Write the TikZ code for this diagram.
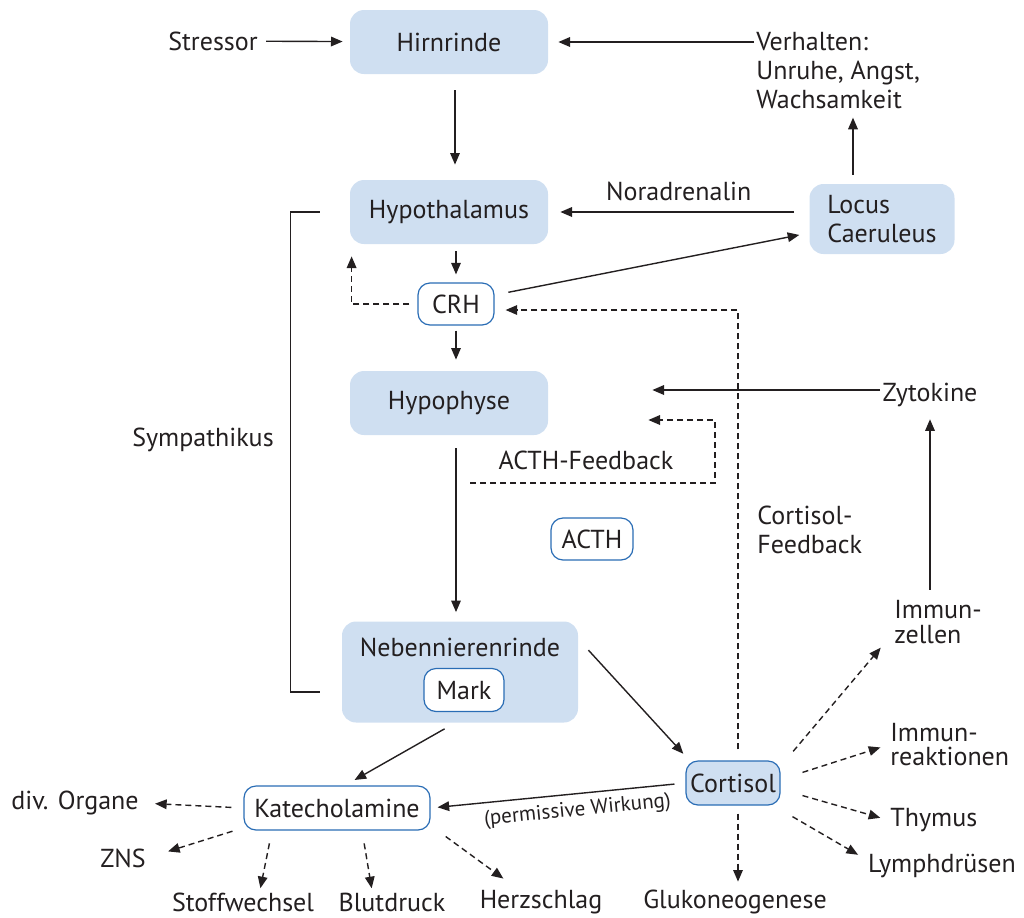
\documentclass[tikz,border=0pt]{standalone}
\usepackage{fontspec}
\setmainfont{PT Sans}
\usetikzlibrary{arrows.meta,positioning}
\definecolor{boxblau}{HTML}{CFDFF1}
\definecolor{randblau}{HTML}{2A6DB5}
\definecolor{tinte}{HTML}{231F20}

\begin{document}
\begin{tikzpicture}[x=0.5pt,y=-0.5pt,>={Triangle[length=5.8pt,width=4.8pt]},
  font=\fontsize{13}{14.5}\selectfont,text=tinte,
  organ/.style={fill=boxblau,rounded corners=7pt,minimum width=99pt,minimum height=32pt,inner sep=2pt},
  stoff/.style={draw=randblau,fill=white,line width=0.6pt,rounded corners=6pt,minimum height=21pt,inner sep=2pt},
  txt/.style={inner sep=1pt,align=left},
  pfeil/.style={->,draw=tinte,line width=0.7pt},
  wirk/.style={pfeil,dash pattern=on 3pt off 2pt}]
\useasboundingbox (0,0) rectangle (1024,917);
% Hauptachse
\node[organ] (hirn) at (449,42) {Hirnrinde};
\node[organ] (hypo) at (449,212) {Hypothalamus};
\node[stoff,minimum width=38pt] (crh) at (456,304) {CRH};
\node[organ] (hyph) at (449,403) {Hypophyse};
\node[stoff,minimum width=41pt] (acth) at (592,539) {ACTH};
\node[organ,minimum width=118pt,minimum height=50.5pt] (nnr) at (460,672) {};
\node[txt] (nnrtext) at (460,647) {Nebennierenrinde};
\node[stoff,minimum width=40pt,minimum height=21.5pt] (mark) at (464,690) {Mark};
\node[stoff,minimum width=47pt,minimum height=22pt,fill=boxblau] (cort) at (733,783) {Cortisol};
\node[stoff,minimum width=93pt,minimum height=22pt] (kat) at (337,808) {Katecholamine};
\node[organ,minimum width=72.5pt,minimum height=35pt,align=left] (locus) at (882,219) {Locus\\Caeruleus};
% Texte
\node[txt] (stressor) at (213,41) {Stressor};
\node[txt,anchor=west] (verh) at (754,71) {Verhalten:\\Unruhe, Angst,\\Wachsamkeit};
\node[txt] (symp) at (203,440) {Sympathikus};
\node[txt] (zyto) at (930,395) {Zytokine};
\node[txt,anchor=west] (cfb) at (755,530) {Cortisol-\\Feedback};
\node[txt] (acthfbtext) at (586,460) {ACTH-Feedback};
\node[txt,anchor=west,font=\fontsize{13}{12.5}\selectfont] (imz) at (892,622) {Immun-\\zellen};
\node[txt,anchor=west,font=\fontsize{13}{12}\selectfont] (imr) at (888,745) {Immun-\\reaktionen};
\node[txt,anchor=west] (thy) at (888,820) {Thymus};
\node[txt] (lym) at (942,866) {Lymphdrüsen};
\node[txt] (gluk) at (735,902) {Glukoneogenese};
\node[txt] (divorg) at (75,803) {div. Organe};
\node[txt] (zns) at (123,858) {ZNS};
\node[txt] (stw) at (243,902) {Stoffwechsel};
\node[txt] (blut) at (392,902) {Blutdruck};
\node[txt] (herz) at (541,902) {Herzschlag};
\coordinate (acthfb) at (470,483);
\coordinate (acthknick) at (715,420);

% Verbindungen
\draw[pfeil,shorten <=3pt,shorten >=3.5pt] (stressor) -- (hirn);
\draw[pfeil,shorten >=5pt] (verh.west |- hirn.east) -- (hirn.east);
\draw[pfeil,shorten <=8pt,shorten >=7.5pt] ([xshift=3pt]hirn.south) -- ([xshift=3pt]hypo.north);
\draw[pfeil,shorten <=7.5pt,shorten >=6pt] (locus.west |- hypo.east) -- node[above=2pt]{Noradrenalin} (hypo.east);
\draw[pfeil,shorten <=4.5pt,shorten >=3pt] ([xshift=-14.5pt]locus.north) -- ([xshift=-14.5pt]locus.north |- verh.south);
\draw[pfeil,shorten <=3.5pt,shorten >=4pt] (hypo.south -| crh) -- (crh.north);
\draw[wirk,shorten <=4pt,shorten >=6pt] (crh.west) -| ([xshift=1pt]hypo.south west);
\draw[pfeil,shorten <=7pt,shorten >=5pt] ([yshift=4.5pt]crh.east) -- ([yshift=-7pt]locus.west);
\draw[pfeil,shorten <=2.5pt,shorten >=5.5pt] (crh.south) -- (crh |- hyph.north);
\draw[pfeil,shorten <=6.5pt,shorten >=4.5pt] (hyph.south -| crh) -- (crh |- nnr.north);
\draw[pfeil,shorten >=52pt] ([yshift=2.5pt]zyto.west) -- ([yshift=2.5pt]zyto.west -| hyph.east);
\draw[pfeil,shorten <=4pt,shorten >=5pt] (imz.north -| zyto) -- (zyto.south);
\draw[wirk,shorten >=50pt] (acthfb) -| (acthknick) -- (acthknick -| hyph.east);
\draw[wirk,shorten <=5.5pt,shorten >=5.5pt] ([xshift=2.5pt]cort.north) |- ([yshift=-3pt]crh.east);
\draw[wirk,shorten <=4pt,shorten >=3pt] ([xshift=2.5pt]cort.south) -- ([xshift=2.5pt]cort.south |- gluk.north);
\draw[tinte,line width=0.7pt] ([xshift=-15pt]hypo.west) -- ++(-29,0) |- ([xshift=-11pt,yshift=-10pt]nnr.west);
\draw[pfeil,shorten >=4.5pt] ([xshift=5pt,yshift=-14.5pt]nnr.north east) -- ([xshift=2pt]cort.north west);
\draw[pfeil,shorten <=6pt,shorten >=5.5pt] ([xshift=-2.5pt]nnr.south) -- ([xshift=4pt]kat.north);
\draw[pfeil,shorten <=5.5pt,shorten >=3.5pt] (cort.west) -- node[sloped,below,pos=0.43,font=\fontsize{10.5}{12}\selectfont]{(permissive Wirkung)} (kat.east);
% Wirkungen Katecholamine
\draw[wirk,shorten <=6pt,shorten >=7pt] (kat.west) -- (divorg.east);
\draw[wirk,shorten <=1pt,shorten >=1pt] ([xshift=-4.5pt]kat.south west) -- ([xshift=9pt,yshift=3pt]zns.east);
\draw[wirk,shorten <=6.5pt,shorten >=1pt] ([xshift=-32.5pt]kat.south) -- ([xshift=8.5pt]stw.north);
\draw[wirk,shorten <=6.5pt,shorten >=1pt] ([xshift=12.5pt]kat.south) -- ([xshift=-10pt]blut.north);
\draw[wirk,shorten <=5pt,shorten >=1pt] ([xshift=3.5pt]kat.south east) -- ([xshift=-18pt,yshift=4pt]herz.north);
% Wirkungen Cortisol
\draw[wirk,shorten <=2pt,shorten >=1pt] ([xshift=5pt,yshift=3pt]cort.north east) -- ([xshift=-5pt]imz.south west);
\draw[wirk,shorten <=1pt,shorten >=4pt] ([xshift=10pt,yshift=5pt]cort.east) -- (imr.west);
\draw[wirk,shorten <=1pt,shorten >=4pt] ([xshift=10pt,yshift=-6pt]cort.east) -- (thy.west);
\draw[wirk,shorten <=4pt,shorten >=1pt] ([xshift=2.5pt,yshift=-3.5pt]cort.south east) -- ([xshift=-3pt,yshift=-2pt]lym.north west);
\end{tikzpicture}
\end{document}
